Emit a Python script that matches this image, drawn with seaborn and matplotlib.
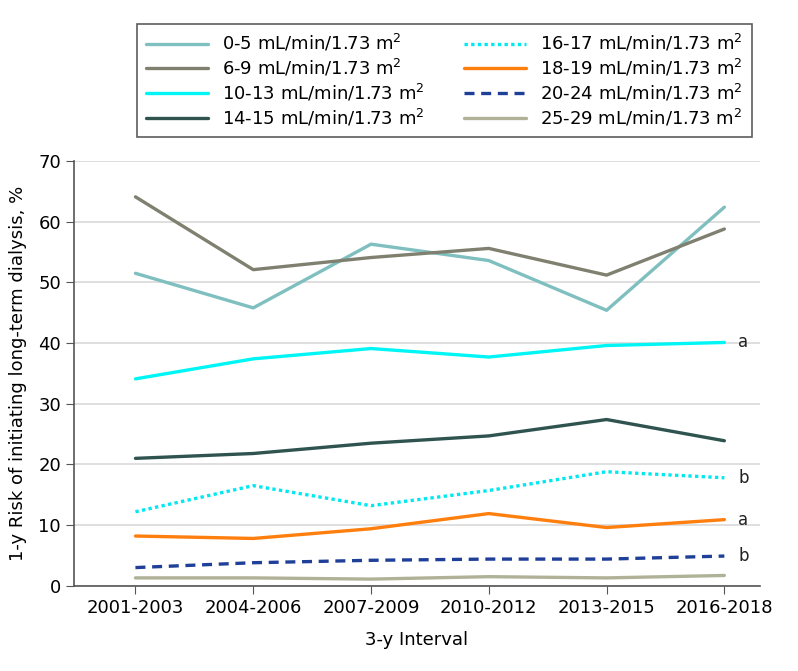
import matplotlib
matplotlib.use("Agg")
import matplotlib.pyplot as plt
import seaborn as sns
import pandas as pd

intervals = ["2001-2003", "2004-2006", "2007-2009", "2010-2012", "2013-2015", "2016-2018"]
groups = ["0-5", "6-9", "10-13", "14-15", "16-17", "18-19", "20-24", "25-29"]
v_0_5 = [51.5, 45.8, 56.3, 53.6, 45.4, 62.4]
v_6_9 = [64.1, 52.1, 54.1, 55.6, 51.2, 58.8]
v_10_13 = [34.1, 37.4, 39.1, 37.7, 39.6, 40.1]
v_14_15 = [21.0, 21.8, 23.5, 24.7, 27.4, 23.9]
v_16_17 = [12.2, 16.5, 13.2, 15.7, 18.8, 17.8]
v_18_19 = [8.2, 7.8, 9.4, 11.9, 9.6, 10.9]
v_20_24 = [3.0, 3.8, 4.2, 4.4, 4.4, 4.9]
v_25_29 = [1.3, 1.3, 1.1, 1.5, 1.3, 1.7]
values = [v_0_5, v_6_9, v_10_13, v_14_15, v_16_17, v_18_19, v_20_24, v_25_29]
end_marks = {"10-13": "a", "16-17": "b", "18-19": "a", "20-24": "b"}

colors = ["#7fbfbf", "#808070", "#00f5f5", "#2f5450", "#00e8f0", "#ff7f0e", "#1f3f99", "#b0b298"]
styles = ["-", "-", "-", "-", (0, (1, 1)), "-", (0, (3, 2)), "-"]

sns.set_style("white")
plt.rcParams['font.family'] = ['DejaVu Sans']
plt.rcParams['text.color'] = 'black'
plt.rcParams['axes.labelcolor'] = 'black'
plt.rcParams['xtick.color'] = 'black'
plt.rcParams['ytick.color'] = 'black'

fig = plt.figure(figsize=(7.98, 6.71), dpi=100)
ax = fig.add_axes([0.093, 0.127, 0.859, 0.633])

for g, vals, c, ls in zip(groups, values, colors, styles):
    df = pd.DataFrame({"x": list(range(len(intervals))), "y": vals})
    sns.lineplot(data=df, x="x", y="y", ax=ax, color=c, linestyle=ls, linewidth=2.4,
                 label=f"{g} mL/min/1.73 m$^2$")
    if g in end_marks:
        ax.text(len(intervals) - 1 + 0.12, vals[-1], end_marks[g], fontsize=12,
                va="center", ha="left", color="#222222")

ax.set_xlim(-0.52, 5.30)
ax.set_ylim(0, 70)
ax.set_xticks(range(len(intervals)))
ax.set_xticklabels(intervals, fontsize=13)
ax.set_yticks(range(0, 71, 10))
ax.tick_params(axis="y", labelsize=13, length=6, color="#555555", direction="out", left=True)
ax.tick_params(axis="x", length=6, color="#555555", direction="out", bottom=True)
ax.grid(axis="y", color="#d9d9d9", linewidth=1.2)
ax.set_axisbelow(True)
for s in ["top", "right"]:
    ax.spines[s].set_visible(False)
for s in ["left", "bottom"]:
    ax.spines[s].set_color("#555555")
    ax.spines[s].set_linewidth(1.2)
ax.set_xlabel("3-y Interval", fontsize=13, labelpad=10)
ax.set_ylabel("1-y Risk of initiating long-term dialysis, %", fontsize=13, labelpad=8)

h, l = ax.get_legend_handles_labels()
ax.get_legend().remove()
leg = fig.legend(h, l, loc="upper center", bbox_to_anchor=(0.557, 0.978), ncol=2,
                 fontsize=13, frameon=True, fancybox=False, edgecolor="#333333",
                 handlelength=3.4, columnspacing=2.2, labelspacing=0.2, borderpad=0.5)
leg.get_frame().set_linewidth(1.2)

fig.savefig("out.png", dpi=100)
